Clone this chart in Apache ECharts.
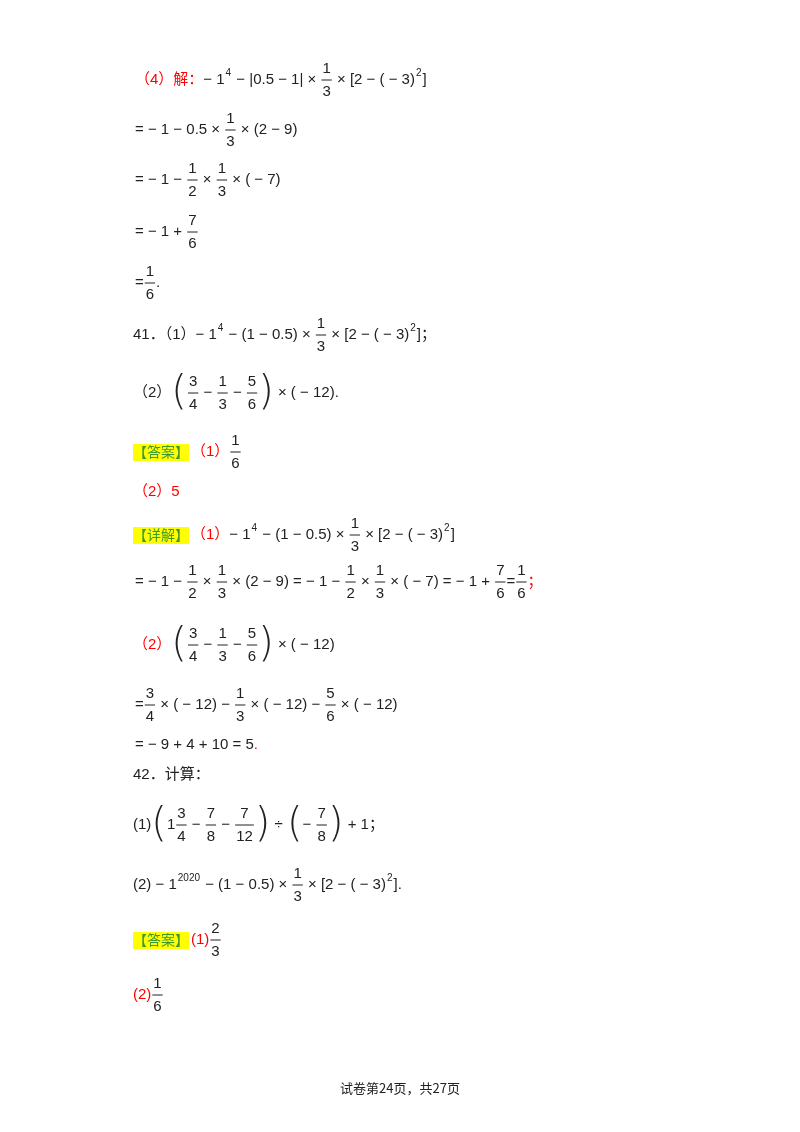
<!DOCTYPE html>
<html><head><meta charset="utf-8">
<script src="https://cdn.jsdelivr.net/npm/echarts@6/dist/echarts.min.js"></script>
<style>html,body{margin:0;background:#fff}#c{width:800px;height:1132px}</style>
</head><body><div id="c"></div>
<script>
const RED = '#ff0000', GRN = '#3f9a2e';
const T = (s, c) => ({k: 't', s, c});
const F = (n, d, c) => ({k: 'f', n, d, c});
const S = s => ({k: 's', s});
const P = s => ({k: 'p', s});
const H = s => ({k: 'h', s});
const G = w => ({k: 'g', w});

// 每行公式
const line4a = [T('（4）解：', RED), T('− 1'), S('4'), T(' − |0.5 − 1| × '), F('1', '3'), T(' × [2 − ( − 3)'), S('2'), T(']')];
const line4b = [T('= − 1 − 0.5 × '), F('1', '3'), T(' × (2 − 9)')];
const line4c = [T('= − 1 − '), F('1', '2'), T(' × '), F('1', '3'), T(' × ( − 7)')];
const line4d = [T('= − 1 + '), F('7', '6')];
const line4e = [T('='), F('1', '6'), T('.')];
const q41a = [T('41．（1）'), T('− 1'), S('4'), T(' − (1 − 0.5) × '), F('1', '3'), T(' × [2 − ( − 3)'), S('2'), T(']；')];
const q41b = [T('（2）'), P('('), F('3', '4'), T(' − '), F('1', '3'), T(' − '), F('5', '6'), P(')'), T(' × ( − 12).')];
const ans41a = [H('【答案】'), T('（1）', RED), F('1', '6')];
const ans41b = [T('（2）5', RED)];
const det41a = [H('【详解】'), T('（1）', RED), T('− 1'), S('4'), T(' − (1 − 0.5) × '), F('1', '3'), T(' × [2 − ( − 3)'), S('2'), T(']')];
const det41b = [T('= − 1 − '), F('1', '2'), T(' × '), F('1', '3'), T(' × (2 − 9) = − 1 − '), F('1', '2'), T(' × '), F('1', '3'), T(' × ( − 7) = − 1 + '), F('7', '6'), T('='), F('1', '6'), T('；', RED)];
const det41c = [T('（2）', RED), P('('), F('3', '4'), T(' − '), F('1', '3'), T(' − '), F('5', '6'), P(')'), T(' × ( − 12)')];
const det41d = [T('='), F('3', '4'), T(' × ( − 12) − '), F('1', '3'), T(' × ( − 12) − '), F('5', '6'), T(' × ( − 12)')];
const det41e = [T('= − 9 + 4 + 10 = 5'), T('.', RED)];
const q42 = [T('42．计算：')];
const q42a = [T('(1)'), P('('), T('1'), F('3', '4'), T(' − '), F('7', '8'), T(' − '), F('7', '12'), P(')'), T(' ÷ '), P('('), T('− '), F('7', '8'), P(')'), T(' + 1；')];
const q42b = [T('(2) − 1'), S('2020'), T(' − (1 − 0.5) × '), F('1', '3'), T(' × [2 − ( − 3)'), S('2'), T('].')];
const ans42a = [H('【答案】'), T('(1)', RED), F('2', '3')];
const ans42b = [T('(2)', RED), F('1', '6')];

const lines = [line4a, line4b, line4c, line4d, line4e, q41a, q41b, ans41a, ans41b, det41a, det41b, det41c, det41d, det41e, q42, q42a, q42b, ans42a, ans42b];
const lineY = [80, 130, 180, 232, 283, 335, 393, 452, 492, 535, 582, 645, 705, 745, 775, 825, 885, 940, 995];
const lineX = [135, 135, 135, 135, 135, 133, 133, 133, 133, 133, 135, 133, 135, 135, 133, 133, 133, 133, 133];

const FONT = '15px "Liberation Sans", "Noto Sans CJK SC"';
const ctx = document.createElement('canvas').getContext('2d');
const tw = (s, f) => { ctx.font = f; return ctx.measureText(s).width; };

const els = [];
function txt(s, x, y, font, fill, align) {
  els.push({type: 'text', style: {text: s, x, y, font, fill: fill || '#222', verticalAlign: 'middle', align: align || 'left'}});
}
lines.forEach((ln, i) => {
  let x = lineX[i], y = lineY[i];
  ln.forEach(t => {
    const c = t.c || '#222';
    if (t.k === 't') { txt(t.s, x, y, FONT, c); x += tw(t.s, FONT); }
    else if (t.k === 's') { const f = '10px "Liberation Sans"'; txt(t.s, x + 1, y - 7, f, c); x += tw(t.s, f) + 2; }
    else if (t.k === 'f') {
      const w = Math.max(tw(t.n, FONT), tw(t.d, FONT)) + 2;
      txt(t.n, x + w / 2 + 1, y - 11, FONT, c, 'center');
      txt(t.d, x + w / 2 + 1, y + 12, FONT, c, 'center');
      els.push({type: 'line', shape: {x1: x + 1, y1: y, x2: x + w + 1, y2: y}, style: {stroke: c, lineWidth: 1}});
      x += w + 2;
    } else if (t.k === 'p') {
      const f = '300 40px "DejaVu Sans"';
      txt(t.s, x, y + 1, f, c); x += tw(t.s, f);
    } else if (t.k === 'h') {
      const f = '14px "Noto Sans CJK SC"', w = tw(t.s, f);
      els.push({type: 'rect', shape: {x, y: y - 8, width: w, height: 17}, style: {fill: '#ffff00'}});
      txt(t.s, x, y, f, GRN); x += w + 2;
    }
  });
});
txt('试卷第24页，共27页', 400, 1088, '13px "Noto Sans CJK SC"', '#222', 'center');

const chart = echarts.init(document.getElementById('c'));
chart.setOption({graphic: {elements: els}});
</script></body></html>
